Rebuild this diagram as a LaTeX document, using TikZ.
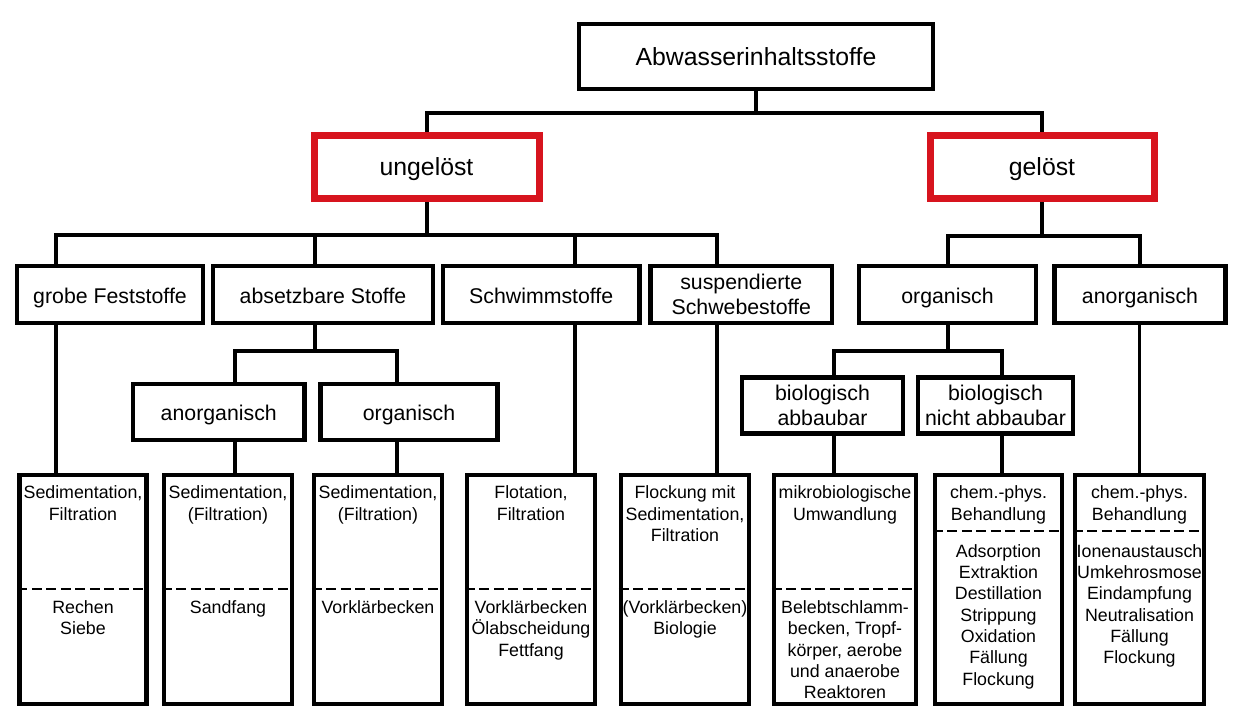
\documentclass[tikz,border=0pt]{standalone}
\usepackage{fontspec}
\setmainfont{Liberation Sans}
\definecolor{redframe}{RGB}{215,20,30}
\begin{document}
\begin{tikzpicture}[x=1pt,y=-1pt,
  box/.style={draw=black, line width=4.3pt, rectangle, inner sep=0pt},
  hdr/.style={font=\fontsize{24.8}{30}\selectfont, text height=18.4pt, text depth=0pt},
  mid/.style={font=\fontsize{21.3}{25}\selectfont, align=center},
  midone/.style={font=\fontsize{21.3}{25}\selectfont, text height=17.6pt, text depth=0pt},
  sml/.style={font=\fontsize{17.8}{21.3}\selectfont, align=center, inner sep=0pt, anchor=north},
  conn/.style={line width=4pt},
  thinconn/.style={line width=2.8pt},
  redbox/.style={draw=redframe, line width=7pt, rectangle, inner sep=0pt},
  sep/.style={line width=1.2pt, dash pattern=on 10pt off 4.5pt}]
\path[use as bounding box, fill=white] (0,0) rectangle (1243,724);

% top levels
\node[box, hdr, minimum width=354pt, minimum height=65pt] (root) at (756,56.5) {Abwasserinhaltsstoffe};
\node[redbox, hdr, minimum width=225pt, minimum height=63.5pt] (ung) at (426.5,166.75) {ungelöst};
\node[redbox, hdr, minimum width=224pt, minimum height=63.5pt] (gel) at (1042,166.75) {gelöst};

% level 2
\node[box, midone, minimum width=186pt, minimum height=57pt] (grobe) at (110,294.5) {grobe Feststoffe};
\node[box, midone, minimum width=220pt, minimum height=57pt] (absetz) at (323,294.5) {absetzbare Stoffe};
\node[box, midone, minimum width=196.5pt, minimum height=57pt] (schwimm) at (541.25,294.5) {Schwimmstoffe};
\node[box, mid, minimum width=181.5pt, minimum height=57pt] (susp) at (741.25,294.5) {suspendierte\\Schwebestoffe};
\node[box, midone, minimum width=177pt, minimum height=57pt] (org) at (947.5,294.5) {organisch};
\node[box, midone, minimum width=171pt, minimum height=57pt] (anorg) at (1140,294.5) {anorganisch};

% level 3
\node[box, midone, minimum width=171.5pt, minimum height=56pt] (anorgL) at (218.75,412) {anorganisch};
\node[box, midone, minimum width=177pt, minimum height=56pt] (orgL) at (409,412) {organisch};
\node[box, mid, minimum width=161pt, minimum height=56pt] (bioA) at (822.5,405.5) {biologisch\\abbaubar};
\node[box, mid, minimum width=155pt, minimum height=56pt] (bioN) at (995.5,405.5) {biologisch\\nicht abbaubar};

% bottom boxes
\node[box, minimum width=127pt, minimum height=229pt] (b1) at (83,589.5) {};
\node[box, minimum width=128pt, minimum height=229pt] (b2) at (228,589.5) {};
\node[box, minimum width=128pt, minimum height=229pt] (b3) at (378,589.5) {};
\node[box, minimum width=128pt, minimum height=229pt] (b4) at (531,589.5) {};
\node[box, minimum width=128pt, minimum height=229pt] (b5) at (685,589.5) {};
\node[box, minimum width=142pt, minimum height=229pt] (b6) at (845,589.5) {};
\node[box, minimum width=127pt, minimum height=229pt] (b7) at (998.5,589.5) {};
\node[box, minimum width=129pt, minimum height=229pt] (b8) at (1139.5,589.5) {};

% helper coordinates
\coordinate (busA) at (0,113);
\coordinate (busB) at (0,235);
\coordinate (busC) at (0,351);
\coordinate (busD) at (0,236);
\coordinate (busE) at (0,350.5);
\coordinate (xg) at (56,0);
\coordinate (xa) at (315,0);
\coordinate (xw) at (575,0);
\coordinate (xs) at (717,0);
\coordinate (xl1) at (234.5,0);
\coordinate (xl2) at (397,0);
\coordinate (xr) at (1139.5,0);
\coordinate (xb1) at (833.5,0);
\coordinate (xb2) at (1001.5,0);
\coordinate (sepy) at (0,589);
\coordinate (sepz) at (0,531);
\coordinate (topY) at (0,483.6);
\coordinate (lowY) at (0,598.4);
\coordinate (lowZ) at (0,542.1);

% connectors top
\draw[conn] (root.south) -- (root.south |- busA);
\draw[conn] (ung.north) -- (ung.north |- busA) -- (gel.north |- busA) -- (gel.north);

% left subtree
\draw[conn] (ung.south) -- (ung.south |- busB);
\draw[conn] (xg |- grobe.north) -- (xg |- busB) -- (xs |- busB) -- (xs |- susp.north);
\draw[conn] (xa |- busB) -- (xa |- absetz.north);
\draw[conn] (xw |- busB) -- (xw |- schwimm.north);
\draw[conn] (xa |- absetz.south) -- (xa |- busC);
\draw[conn] (xl1 |- anorgL.north) -- (xl1 |- busC) -- (xl2 |- busC) -- (xl2 |- orgL.north);
\draw[conn] (xg |- grobe.south) -- (xg |- b1.north);
\draw[conn] (xl1 |- anorgL.south) -- (xl1 |- b2.north);
\draw[conn] (xl2 |- orgL.south) -- (xl2 |- b3.north);
\draw[conn] (xw |- schwimm.south) -- (xw |- b4.north);
\draw[conn] (xs |- susp.south) -- (xs |- b5.north);

% right subtree
\draw[conn] (gel.south) -- (gel.south |- busD);
\draw[conn] (org.north) -- (org.north |- busD) -- (xr |- busD) -- (xr |- anorg.north);
\draw[conn] (org.south) -- (org.south |- busE);
\draw[conn] (xb1 |- bioA.north) -- (xb1 |- busE) -- (xb2 |- busE) -- (xb2 |- bioN.north);
\draw[conn] (xb1 |- bioA.south) -- (xb1 |- b6.north);
\draw[conn] (xb2 |- bioN.south) -- (xb2 |- b7.north);
\draw[thinconn] (xr |- anorg.south) -- (xr |- b8.north);

% dashed separators
\draw[sep] (b1.west |- sepy) -- (b1.east |- sepy);
\draw[sep] (b2.west |- sepy) -- (b2.east |- sepy);
\draw[sep] (b3.west |- sepy) -- (b3.east |- sepy);
\draw[sep] (b4.west |- sepy) -- (b4.east |- sepy);
\draw[sep] (b5.west |- sepy) -- (b5.east |- sepy);
\draw[sep] (b6.west |- sepy) -- (b6.east |- sepy);
\draw[sep] (b7.west |- sepz) -- (b7.east |- sepz);
\draw[sep] (b8.west |- sepz) -- (b8.east |- sepz);

% texts in bottom boxes
\node[sml] (t1a) at (b1.center |- topY) {\strut Sedimentation,\\\strut Filtration};
\node[sml] (t1b) at (b1.center |- lowY) {\strut Rechen\\\strut Siebe};
\node[sml] (t2a) at (b2.center |- topY) {\strut Sedimentation,\\\strut (Filtration)};
\node[sml] (t2b) at (b2.center |- lowY) {\strut Sandfang};
\node[sml] (t3a) at (b3.center |- topY) {\strut Sedimentation,\\\strut (Filtration)};
\node[sml] (t3b) at (b3.center |- lowY) {\strut Vorklärbecken};
\node[sml] (t4a) at (b4.center |- topY) {\strut Flotation,\\\strut Filtration};
\node[sml] (t4b) at (b4.center |- lowY) {\strut Vorklärbecken\\\strut Ölabscheidung\\\strut Fettfang};
\node[sml] (t5a) at (b5.center |- topY) {\strut Flockung mit\\\strut Sedimentation,\\\strut Filtration};
\node[sml] (t5b) at (b5.center |- lowY) {\strut (Vorklärbecken)\\\strut Biologie};
\node[sml] (t6a) at (b6.center |- topY) {\strut mikrobiologische\\\strut Umwandlung};
\node[sml] (t6b) at (b6.center |- lowY) {\strut Belebtschlamm-\\\strut becken, Tropf-\\\strut körper, aerobe\\\strut und anaerobe\\\strut Reaktoren};
\node[sml] (t7a) at (b7.center |- topY) {\strut chem.-phys.\\\strut Behandlung};
\node[sml] (t7b) at (b7.center |- lowZ) {\strut Adsorption\\\strut Extraktion\\\strut Destillation\\\strut Strippung\\\strut Oxidation\\\strut Fällung\\\strut Flockung};
\node[sml] (t8a) at (b8.center |- topY) {\strut chem.-phys.\\\strut Behandlung};
\node[sml] (t8b) at (b8.center |- lowZ) {\strut Ionenaustausch\\\strut Umkehrosmose\\\strut Eindampfung\\\strut Neutralisation\\\strut Fällung\\\strut Flockung};
\end{tikzpicture}
\end{document}
